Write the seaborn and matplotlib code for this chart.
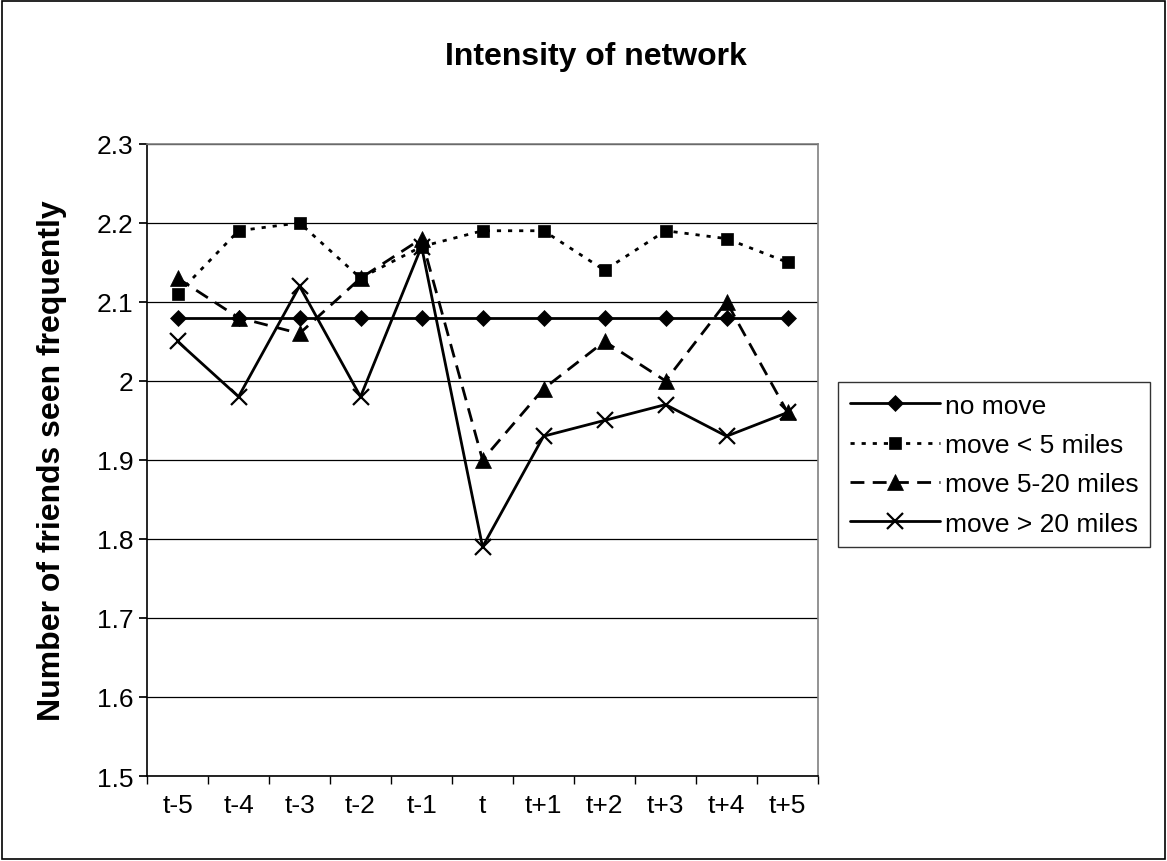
import matplotlib
matplotlib.use('Agg')
import matplotlib.pyplot as plt
import numpy as np
import pandas as pd
import seaborn as sns
from matplotlib.patches import Rectangle

periods = ['t-5', 't-4', 't-3', 't-2', 't-1', 't', 't+1', 't+2', 't+3', 't+4', 't+5']
no_move = [2.08, 2.08, 2.08, 2.08, 2.08, 2.08, 2.08, 2.08, 2.08, 2.08, 2.08]
move_lt5 = [2.11, 2.19, 2.20, 2.13, 2.17, 2.19, 2.19, 2.14, 2.19, 2.18, 2.15]
move_5_20 = [2.13, 2.08, 2.06, 2.13, 2.18, 1.90, 1.99, 2.05, 2.00, 2.10, 1.96]
move_gt20 = [2.05, 1.98, 2.12, 1.98, 2.17, 1.79, 1.93, 1.95, 1.97, 1.93, 1.96]

series = {
    'no move': no_move,
    'move < 5 miles': move_lt5,
    'move 5-20 miles': move_5_20,
    'move > 20 miles': move_gt20,
}
styles = {
    'no move': dict(marker='D', dashes=None, ms=8.5),
    'move < 5 miles': dict(marker='s', dashes=(1.5, 2.5), ms=9),
    'move 5-20 miles': dict(marker='^', dashes=(5, 3), ms=11),
    'move > 20 miles': dict(marker='x', dashes=None, ms=12),
}

sns.set_theme(style='white')
plt.rcParams['font.family'] = ['Liberation Sans', 'DejaVu Sans']
plt.rcParams['text.color'] = 'black'
plt.rcParams['axes.labelcolor'] = 'black'
plt.rcParams['xtick.color'] = 'black'
plt.rcParams['ytick.color'] = 'black'

fig = plt.figure(figsize=(11.67, 8.62), dpi=100)
ax = fig.add_axes([0.126, 0.0986, 0.575, 0.7334])

x = np.arange(len(periods))
for name, vals in series.items():
    st = styles[name]
    df = pd.DataFrame({'x': x, 'y': vals})
    sns.lineplot(data=df, x='x', y='y', ax=ax, color='black', lw=2.0,
                 marker=st['marker'], markersize=st['ms'], markeredgecolor='black',
                 markeredgewidth=1.6 if st['marker'] == 'x' else 0.5,
                 label=name)
    line = ax.get_lines()[-1]
    if st['dashes'] is not None:
        line.set_dashes(st['dashes'])

ax.set_xlim(-0.5, len(periods) - 0.5)
ax.set_ylim(1.5, 2.3)
ax.set_yticks(np.arange(1.5, 2.31, 0.1))
ax.set_yticklabels(['1.5', '1.6', '1.7', '1.8', '1.9', '2', '2.1', '2.2', '2.3'])
ax.set_xticks(x)
ax.set_xticklabels(periods)
ax.set_xticks(np.arange(-0.5, len(periods), 1), minor=True)
ax.tick_params(axis='x', which='major', length=0, pad=12, labelsize=19)
ax.tick_params(axis='x', which='minor', length=6, direction='out', color='black', bottom=True)
ax.tick_params(axis='y', length=6, direction='out', color='black', left=True, labelsize=19, pad=4)
ax.yaxis.grid(True, color='black', lw=0.9)
ax.set_axisbelow(True)
for side in ['top', 'right']:
    ax.spines[side].set_color('#808080')
for side in ['left', 'bottom']:
    ax.spines[side].set_color('black')
for sp in ax.spines.values():
    sp.set_linewidth(1.2)

ax.set_xlabel('')
ax.set_ylabel('Number of friends seen frequently', fontsize=23, fontweight='bold')
ax.yaxis.set_label_coords(-0.12, 0.5)
fig.text(0.511, 0.934, 'Intensity of network', fontsize=23, fontweight='bold',
         ha='center', va='center')

ax.legend(loc='upper left', bbox_to_anchor=(0.718, 0.556), bbox_transform=fig.transFigure,
          frameon=True, fancybox=False, edgecolor='black', fontsize=19,
          borderpad=0.45, handlelength=3.4, labelspacing=0.58, handletextpad=0.2,
          borderaxespad=0)
ax.get_legend().get_frame().set_linewidth(1.0)

fig.patches.append(Rectangle((0.002, 0.002), 0.996, 0.996, transform=fig.transFigure,
                             fill=False, edgecolor='black', lw=1.2))

fig.savefig('out.png', dpi=100)
